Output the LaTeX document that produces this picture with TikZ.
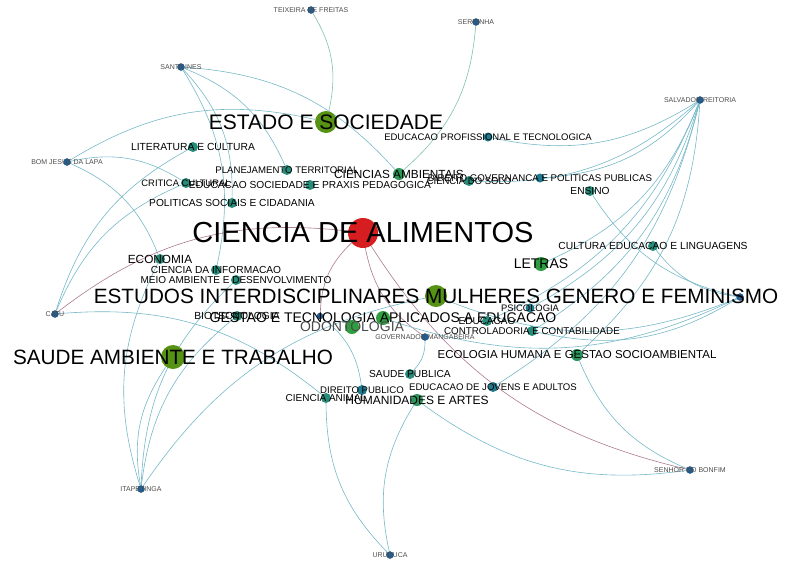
\documentclass[tikz,border=0pt]{standalone}
\usepackage{fontspec}
\setmainfont{Liberation Sans}
\usetikzlibrary{graphs}

\pgfdeclarelayer{background}
\pgfsetlayers{background,main}

\definecolor{campusblue}{RGB}{33,96,150}
\definecolor{tealarea}{RGB}{40,140,122}
\definecolor{bluearea}{RGB}{32,122,142}
\definecolor{greenarea}{RGB}{46,158,64}
\definecolor{olivearea}{RGB}{86,146,20}
\definecolor{redarea}{RGB}{214,30,32}
\definecolor{linkteal}{RGB}{118,184,200}
\definecolor{linkgreen}{RGB}{126,194,168}
\definecolor{linkmauve}{RGB}{172,122,146}

\begin{document}
\begin{tikzpicture}[
		x=1pt, y=-1pt,
		dot/.style={circle, inner sep=0pt, minimum size=#1},
		campus/.style={dot=7pt, fill=campusblue, draw=campusblue!70!black, line width=0.3pt},
		area/.style={dot=#1, fill=tealarea},
		txt/.style={font=\fontsize{#1}{#1}\selectfont, inner sep=0pt, text=black},
		ctxt/.style={font=\fontsize{7}{7}\selectfont, inner sep=0pt, text=black!70},
		link/.style={draw=linkteal, line width=0.6pt},
		linkg/.style={draw=linkgreen},
		linkm/.style={draw=linkmauve}
	]
	\useasboundingbox (0,0) rectangle (787,563);

	% campi
	\node[campus, label={[ctxt]center:TEIXEIRA DE FREITAS}] (tf) at (311,10) {};
	\node[campus, label={[ctxt]center:SERRINHA}] (ser) at (476,22) {};
	\node[campus, label={[ctxt]center:SANTA INES}] (si) at (181,67) {};
	\node[campus, label={[ctxt]center:SALVADOR REITORIA}] (ssa) at (700,100) {};
	\node[campus, label={[ctxt]center:BOM JESUS DA LAPA}] (bjl) at (67,162) {};
	\node[campus, label={[ctxt]center:CATU}] (catu) at (55,314) {};
	\node[campus, label={[ctxt]center:ITAPETINGA}] (ita) at (141,489) {};
	\node[campus, label={[ctxt]center:URUCUCA}] (uru) at (390,555) {};
	\node[campus, label={[ctxt]center:SENHOR DO BONFIM}] (sdb) at (690,470) {};
	\node[campus, label={[ctxt]center:GOVERNADOR MANGABEIRA}] (gov) at (425,337) {};
	\node[campus, dot=6pt] (cx) at (320,316) {};
	\node[campus] (cy) at (740,297) {};

	% areas
	\node[area=22pt, fill=olivearea, label={[txt=21]center:ESTADO E SOCIEDADE}] (estado) at (326,122) {};
	\node[area=9pt, fill=bluearea, label={[txt=9.5]center:EDUCACAO PROFISSIONAL E TECNOLOGICA}] (eprof) at (488,137) {};
	\node[area=10pt, label={[txt=10.3]center:LITERATURA E CULTURA}] (lit) at (193,147) {};
	\node[area=10pt, label={[txt=9.6]center:PLANEJAMENTO TERRITORIAL}] (plan) at (287,170) {};
	\node[area=12pt, fill=greenarea!60!tealarea, label={[txt=11.8]center:CIENCIAS AMBIENTAIS}] (camb) at (399,174) {};
	\node[area=10pt, label={[txt=9.4]center:CRITICA CULTURAL}] (crit) at (186,183) {};
	\node[area=10pt, label={[txt=10.2]center:EDUCACAO SOCIEDADE E PRAXIS PEDAGOGICA}] (praxis) at (310,185) {};
	\node[area=10pt, label={[txt=9.5]center:CIENCIA DO SOLO}] (solo) at (469,181) {};
	\node[area=9pt, fill=bluearea, label={[txt=9.7]center:DIREITO GOVERNANCA E POLITICAS PUBLICAS}] (dgov) at (540,178) {};
	\node[area=10pt, label={[txt=10.2]center:ENSINO}] (ensino) at (590,191) {};
	\node[area=10pt, label={[txt=10.2]center:POLITICAS SOCIAIS E CIDADANIA}] (polit) at (232,203) {};
	\node[area=30pt, fill=redarea, label={[txt=29]center:CIENCIA DE ALIMENTOS}] (alim) at (363,233) {};
	\node[area=10pt, label={[txt=10.3]center:CULTURA EDUCACAO E LINGUAGENS}] (cult) at (653,246) {};
	\node[area=10pt, label={[txt=11.8]center:ECONOMIA}] (econ) at (160,259) {};
	\node[area=14pt, fill=greenarea, label={[txt=14]center:LETRAS}] (letras) at (541,264) {};
	\node[area=10pt, label={[txt=10.2]center:CIENCIA DA INFORMACAO}] (cinfo) at (216,270) {};
	\node[area=10pt, label={[txt=10]center:MEIO AMBIENTE E DESENVOLVIMENTO}] (meio) at (236,280) {};
	\node[area=22pt, fill=olivearea, label={[txt=20.7]center:ESTUDOS INTERDISCIPLINARES MULHERES GENERO E FEMINISMO}] (estudos) at (436,296) {};
	\node[area=9pt, fill=bluearea, label={[txt=9.4]center:PSICOLOGIA}] (psico) at (530,308) {};
	\node[area=10pt, label={[txt=10.3]center:BIOTECNOLOGIA}] (biotec) at (237,316) {};
	\node[area=14pt, fill=greenarea, label={[txt=14]center:GESTAO E TECNOLOGIA APLICADOS A EDUCACAO}] (gestao) at (383,318) {};
	\node[area=10pt, label={[txt=10]center:EDUCACAO}] (educ) at (487,321) {};
	\node[area=14pt, fill=greenarea, label={[txt=14, text=black!70]center:ODONTOLOGIA}] (odonto) at (352,327) {};
	\node[area=10pt, label={[txt=9.8]center:CONTROLADORIA E CONTABILIDADE}] (contr) at (532,331) {};
	\node[area=24pt, fill=olivearea, label={[txt=20.7]center:SAUDE AMBIENTE E TRABALHO}] (sat) at (173,357) {};
	\node[area=12pt, fill=greenarea!50!tealarea, label={[txt=11.5]center:ECOLOGIA HUMANA E GESTAO SOCIOAMBIENTAL}] (ecol) at (577,355) {};
	\node[area=10pt, label={[txt=10.2]center:SAUDE PUBLICA}] (spub) at (410,374) {};
	\node[area=10pt, fill=bluearea, label={[txt=9.6]center:DIREITO PUBLICO}] (dpub) at (362,390) {};
	\node[area=10pt, fill=bluearea, label={[txt=9.6]center:EDUCACAO DE JOVENS E ADULTOS}] (eja) at (493,387) {};
	\node[area=10pt, label={[txt=10]center:CIENCIA ANIMAL}] (canim) at (326,398) {};
	\node[area=12pt, fill=greenarea!50!tealarea, label={[txt=12]center:HUMANIDADES E ARTES}] (human) at (417,400) {};

	\begin{pgfonlayer}{background}
	\graph [use existing nodes, edges={link, bend left=22}] {
		tf --[linkg] estado;
		ser --[linkg] camb;
		si -- {plan, camb, polit, cinfo};
		bjl -- {estado, econ, crit};
		catu -- {lit, crit, canim};
		catu --[linkm] alim;
		ita -- {econ, sat, biotec, meio, estudos};
		uru -- {canim, human};
		sdb -- {ecol, human};
		sdb --[linkm] alim;
		gov --[linkm] alim;
		gov -- spub;
		cx --[linkm] alim;
		cx -- dpub;
		ssa -- {eprof, dgov, solo, letras, psico, educ, contr, ecol, eja};
		cy -- {estudos, contr, ensino, cult, gestao};
	};
	\end{pgfonlayer}
\end{tikzpicture}
\end{document}
